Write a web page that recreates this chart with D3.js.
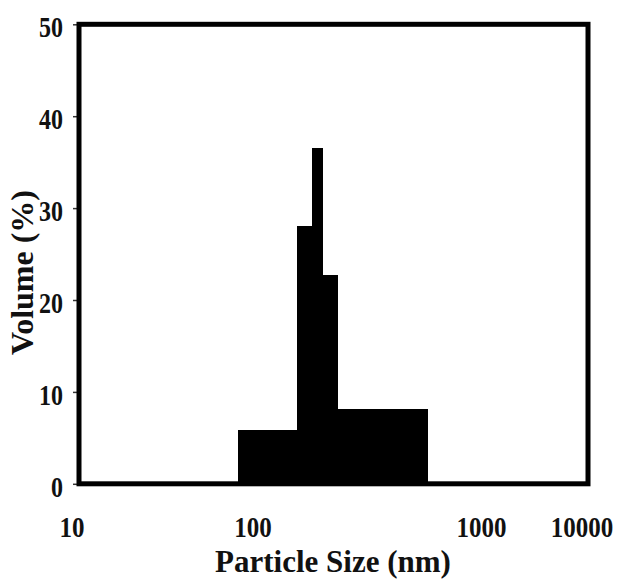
<!DOCTYPE html>
<html>
<head>
<meta charset="utf-8">
<script src="https://cdn.jsdelivr.net/npm/d3@7"></script>
<style>
  html, body { margin: 0; padding: 0; background: #fff; }
  svg { display: block; }
  text { font-family: "Liberation Serif", "Times New Roman", serif; font-weight: bold; fill: #111; }
</style>
</head>
<body>
<svg id="chart" width="618" height="579"></svg>
<script>
// ---- data ----
const binEdges = [83.5, 156, 182, 204, 237, 588];      // particle size bin edges (nm)
const volumes  = [5.9, 28.0, 36.5, 22.7, 8.1];          // volume % per bin
const xTickValues = [10, 100, 1000, 10000];
const yTickValues = [0, 10, 20, 30, 40, 50];
const xTitle = "Particle Size (nm)";
const yTitle = "Volume (%)";

const bins = volumes.map((v, i) => ({ x0: binEdges[i], x1: binEdges[i + 1], v }));

// ---- layout ----
const svg = d3.select("#chart");
const frame = { left: 79, right: 588, top: 24.3, bottom: 483.8 };

// x axis: log scale anchored at the printed tick labels
const x = d3.scaleLog()
  .domain(xTickValues)
  .range([71.5, 252.5, 481, 581.5]);

const y = d3.scaleLinear()
  .domain([0, 50])
  .range([frame.bottom, frame.top]);

// bars
svg.append("g")
  .attr("shape-rendering", "crispEdges")
  .selectAll("rect")
  .data(bins)
  .join("rect")
  .attr("x", d => Math.round(x(d.x0)))
  .attr("width", d => Math.round(x(d.x1)) - Math.round(x(d.x0)))
  .attr("y", d => Math.round(y(d.v)))
  .attr("height", d => Math.round(y(0)) - Math.round(y(d.v)))
  .attr("fill", "#000");

// y axis
const yStretch = 1.2;
const yAxis = svg.append("g")
  .attr("transform", `translate(${frame.left},0)`)
  .call(d3.axisLeft(y).tickValues(yTickValues).tickSize(6).tickPadding(10).tickFormat(d3.format("d")));
yAxis.select(".domain").remove();
yAxis.selectAll(".tick line").attr("stroke", "#333").attr("stroke-width", 1.5);
yAxis.selectAll(".tick text")
  .attr("dy", null)
  .attr("y", 12.5 / yStretch)
  .attr("transform", `scale(1,${yStretch})`)
  .style("font-size", "24px")
  .attr("font-family", null);

// x axis
const xStretch = 1.15;
const xAxis = svg.append("g")
  .attr("transform", `translate(0,${frame.bottom})`)
  .call(d3.axisBottom(x).tickValues(xTickValues).tickSize(0).tickFormat(d3.format("d")));
xAxis.select(".domain").remove();
xAxis.selectAll(".tick text")
  .attr("dy", null)
  .attr("y", 53.2 / xStretch)
  .attr("transform", `scale(1,${xStretch})`)
  .style("font-size", "25px")
  .attr("font-family", null);

// frame
svg.append("rect")
  .attr("x", frame.left)
  .attr("y", frame.top)
  .attr("width", frame.right - frame.left)
  .attr("height", frame.bottom - frame.top)
  .attr("fill", "none")
  .attr("stroke", "#000")
  .attr("stroke-width", 5);

// titles
svg.append("text")
  .attr("x", 333)
  .attr("y", 572)
  .attr("text-anchor", "middle")
  .style("font-size", "31px")
  .text(xTitle);

svg.append("text")
  .attr("transform", "translate(33,272.5) rotate(-90)")
  .attr("text-anchor", "middle")
  .style("font-size", "32px")
  .text(yTitle);
</script>
</body>
</html>
